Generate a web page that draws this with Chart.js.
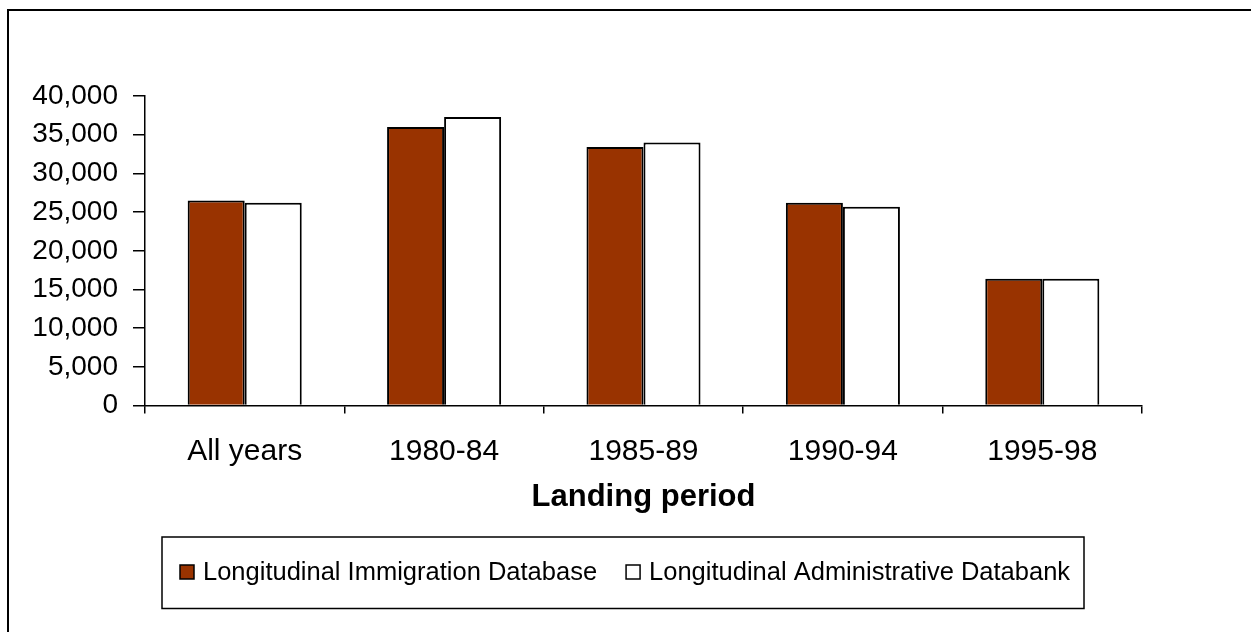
<!DOCTYPE html>
<html><head><meta charset="utf-8">
<script src="https://cdn.jsdelivr.net/npm/chart.js@4"></script>
<style>html,body{margin:0;padding:0;background:#fff}#wrap{width:1251px;height:632px;position:relative}</style>
</head><body><div id="wrap"><canvas id="c" width="1251" height="632"></canvas></div>
<script>
const categories = ['All years', '1980-84', '1985-89', '1990-94', '1995-98'];
const lidValues = [26500, 36000, 33400, 26200, 16400];
const ladValues = [26200, 37300, 34000, 25700, 16400];
const seriesNames = ['Longitudinal Immigration Database', 'Longitudinal Administrative Databank'];
const seriesColors = ['#993300', '#ffffff'];
const axisTitle = 'Landing period';
const yMin = 0, yMax = 40000, yStep = 5000;

const FONT = "'Liberation Sans', Arial, sans-serif";

const framePlugin = {
  id: 'frame',
  beforeDraw(chart) {
    const ctx = chart.ctx;
    ctx.save();
    ctx.fillStyle = '#fff';
    ctx.fillRect(0, 0, chart.width, chart.height);
    ctx.strokeStyle = '#000';
    ctx.lineWidth = 2;
    ctx.beginPath();
    ctx.moveTo(8, chart.height + 2);
    ctx.lineTo(8, 10);
    ctx.lineTo(chart.width + 2, 10);
    ctx.stroke();
    ctx.restore();
  }
};

const legendPlugin = {
  id: 'boxLegend',
  afterDraw(chart) {
    const ctx = chart.ctx;
    ctx.save();
    ctx.strokeStyle = '#000';
    ctx.lineWidth = 1.5;
    ctx.strokeRect(162, 537, 922, 71.5);
    ctx.font = '25.5px ' + FONT;
    ctx.textBaseline = 'middle';
    ctx.fillStyle = '#000';
    let x = 180;
    const cy = 572;
    chart.data.datasets.forEach((ds, i) => {
      ctx.fillStyle = ds.backgroundColor;
      ctx.fillRect(x, cy - 7, 14, 14);
      ctx.strokeStyle = '#000';
      ctx.lineWidth = 1.5;
      ctx.strokeRect(x, cy - 7, 14, 14);
      ctx.fillStyle = '#000';
      ctx.fillText(ds.label, x + 23, cy + 1);
      x += 23 + ctx.measureText(ds.label).width + 29;
    });
    ctx.restore();
  }
};

new Chart(document.getElementById('c'), {
  type: 'bar',
  data: {
    labels: categories,
    datasets: [
      { label: seriesNames[0], data: lidValues, backgroundColor: seriesColors[0], borderColor: '#000', borderWidth: 2 },
      { label: seriesNames[1], data: ladValues, backgroundColor: seriesColors[1], borderColor: '#000', borderWidth: 2 }
    ]
  },
  options: {
    responsive: false,
    animation: false,
    devicePixelRatio: 1,
    layout: { padding: { left: 0, right: 109, top: 96, bottom: 116.4 } },
    datasets: { bar: { categoryPercentage: 0.572, barPercentage: 1.0 } },
    plugins: { legend: { display: false }, tooltip: { enabled: false } },
    scales: {
      x: {
        grid: { offset: true, drawOnChartArea: false, drawTicks: true, tickLength: 8, color: '#000', lineWidth: 1.5 },
        border: { display: true, color: '#000', width: 1.5 },
        ticks: { color: '#000', font: { family: FONT, size: 30 }, padding: 20, maxRotation: 0 },
        title: { display: true, text: axisTitle, color: '#000', font: { family: FONT, size: 31, weight: 'bold' }, padding: 0 },
        afterFit(s) { s.height = 110; }
      },
      y: {
        min: yMin, max: yMax,
        grid: { drawOnChartArea: false, drawTicks: true, tickLength: 12, color: '#000', lineWidth: 1.5 },
        border: { display: true, color: '#000', width: 1.5 },
        ticks: { stepSize: yStep, color: '#000', font: { family: FONT, size: 28 }, padding: 15,
          callback: v => v.toLocaleString('en-US') },
        afterFit(s) { s.width = 145; }
      }
    }
  },
  plugins: [framePlugin, legendPlugin]
});
</script></body></html>
